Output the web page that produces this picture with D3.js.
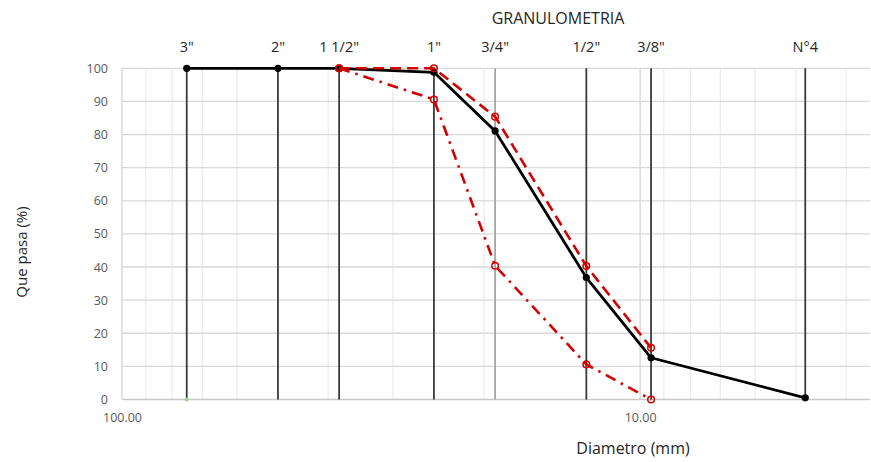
<!DOCTYPE html>
<html>
<head>
<meta charset="utf-8">
<script src="https://cdn.jsdelivr.net/npm/d3@7/dist/d3.min.js"></script>
<style>
  html, body { margin: 0; padding: 0; background: #fff; }
  svg { display: block; }
  text { font-family: "Open Sans", sans-serif; }
</style>
</head>
<body>
<script>
// Sieve series: label, opening size (mm)
const sieveLabels = ['3"', '2"', '1 1/2"', '1"', '3/4"', '1/2"', '3/8"', 'N°4'];
const sieveSizes  = [75, 50, 38.1, 25, 19.05, 12.7, 9.525, 4.8];

// Percent passing for the sample and the specification band
const passing    = [100, 100, 100, 98.8, 81.1, 36.8, 12.6, 0.5];
const upperLimit = [null, null, 100, 100, 85.4, 40.3, 15.6, null];
const lowerLimit = [null, null, 100, 90.6, 40.4, 10.6, 0, null];

// Axis ticks
const yTicks = [0, 10, 20, 30, 40, 50, 60, 70, 80, 90, 100];
const xMajorTicks = [100, 10];
const xMinorTicks = [90, 80, 70, 60, 50, 40, 30, 20, 9, 8, 7, 6, 5, 4];

const W = 871, H = 462;
const plotL = 122, plotR = 870, plotT = 68.3, plotB = 399.5;

const svg = d3.select("body").append("svg").attr("width", W).attr("height", H);

const x = d3.scaleLog().domain([100, 3.6]).range([plotL, plotR]);
const y = d3.scaleLinear().domain([0, 100]).range([plotB, plotT]);

// Grid
const grid = svg.append("g");
grid.selectAll("line.minor").data(xMinorTicks).join("line")
  .attr("x1", d => x(d)).attr("x2", d => x(d))
  .attr("y1", plotT).attr("y2", plotB)
  .attr("stroke", "#ececec").attr("stroke-width", 1.3);
grid.selectAll("line.major").data(xMajorTicks).join("line")
  .attr("x1", d => x(d)).attr("x2", d => x(d))
  .attr("y1", plotT).attr("y2", plotB)
  .attr("stroke", "#d4d4d4").attr("stroke-width", 1.3);
grid.selectAll("line.h").data(yTicks.filter(d => d > 0)).join("line")
  .attr("x1", plotL).attr("x2", plotR)
  .attr("y1", d => y(d)).attr("y2", d => y(d))
  .attr("stroke", "#d9d9d9").attr("stroke-width", 1.3);
// Bottom axis line
svg.append("line").attr("x1", plotL).attr("x2", plotR)
  .attr("y1", y(0)).attr("y2", y(0))
  .attr("stroke", "#c8c8c8").attr("stroke-width", 1.5);

// Y axis labels
const yAxis = d3.axisLeft(y).tickValues(yTicks).tickSize(0).tickPadding(14);
svg.append("g").attr("transform", `translate(${plotL},0)`).call(yAxis)
  .call(g => g.select(".domain").remove())
  .call(g => g.selectAll("text")
    .attr("font-family", "Open Sans, sans-serif")
    .attr("font-size", 12.5).attr("fill", "#595959"));

// X axis labels (major decades)
const xAxis = d3.axisBottom(x).tickValues(xMajorTicks).tickSize(0).tickPadding(14)
  .tickFormat(d3.format(".2f"));
svg.append("g").attr("transform", `translate(0,${plotB})`).call(xAxis)
  .call(g => g.select(".domain").remove())
  .call(g => g.selectAll("text")
    .attr("font-family", "Open Sans, sans-serif")
    .attr("font-size", 12.5).attr("fill", "#595959"));

// Vertical lines at each sieve
const sieves = sieveSizes.map((s, i) => ({ size: s, label: sieveLabels[i] }));
svg.append("g").selectAll("line").data(sieves).join("line")
  .attr("x1", d => x(d.size)).attr("x2", d => x(d.size))
  .attr("y1", y(100)).attr("y2", y(0))
  .attr("stroke", d => d.label === '3/4"' ? "#a6a6a6" : "#3a3a3a")
  .attr("stroke-width", 1.8);

// Small marker at the foot of the 3" line
svg.append("circle").attr("cx", x(sieveSizes[0])).attr("cy", y(0)).attr("r", 2)
  .attr("fill", "#a9d18e");

// Sieve labels above the plot
svg.append("g").selectAll("text").data(sieves).join("text")
  .attr("x", d => x(d.size)).attr("y", 52)
  .attr("text-anchor", "middle")
  .attr("font-size", 14.5).attr("fill", "#262626")
  .text(d => d.label);

const toPoints = arr => sieveSizes.map((s, i) => ({ s, v: arr[i] })).filter(p => p.v !== null);
const line = d3.line().x(p => x(p.s)).y(p => y(p.v));

// Specification limits (red)
const red = "#d40000";
const bands = [
  { data: toPoints(upperLimit), dash: "11 6" },
  { data: toPoints(lowerLimit), dash: "11 6 2.5 6" }
];

// Sample curve (black)
const sample = toPoints(passing);
svg.append("path").datum(sample).attr("d", line)
  .attr("fill", "none").attr("stroke", "#000").attr("stroke-width", 2.8)
  .attr("stroke-linejoin", "round");
svg.append("g").selectAll("circle").data(sample).join("circle")
  .attr("cx", p => x(p.s)).attr("cy", p => y(p.v)).attr("r", 3.6)
  .attr("fill", "#000");

bands.forEach(b => {
  svg.append("path").datum(b.data).attr("d", line)
    .attr("fill", "none").attr("stroke", red).attr("stroke-width", 2.6)
    .attr("stroke-dasharray", b.dash);
  svg.append("g").selectAll("circle").data(b.data).join("circle")
    .attr("cx", p => x(p.s)).attr("cy", p => y(p.v)).attr("r", 3.3)
    .attr("fill", "none").attr("stroke", red).attr("stroke-width", 1.5);
});

// Titles
svg.append("text").attr("x", 558).attr("y", 24).attr("text-anchor", "middle")
  .attr("font-size", 16).attr("fill", "#262626").text("GRANULOMETRIA");
svg.append("text").attr("x", 633).attr("y", 454).attr("text-anchor", "middle")
  .attr("font-size", 16).attr("fill", "#262626").text("Diametro (mm)");
svg.append("text").attr("transform", "translate(27,252) rotate(-90)")
  .attr("text-anchor", "middle")
  .attr("font-size", 15).attr("fill", "#262626").text("Que pasa (%)");
</script>
</body>
</html>
